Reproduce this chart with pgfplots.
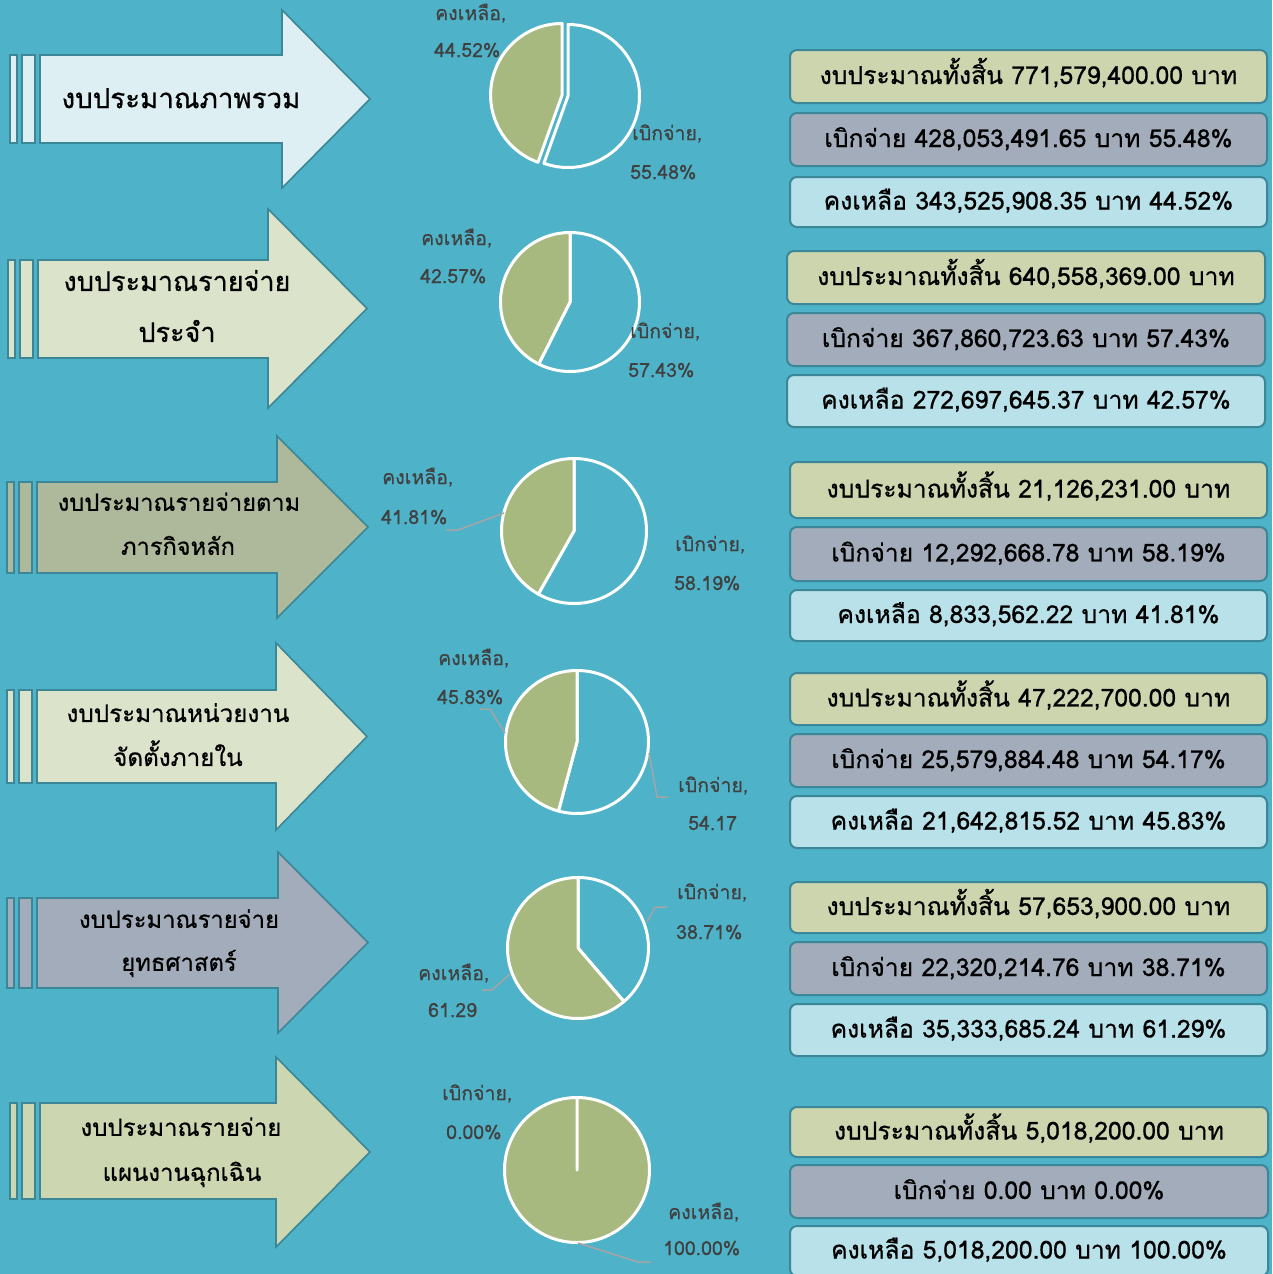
\documentclass[border=0pt]{standalone}
\usepackage{pgfplots}
\pgfplotsset{compat=1.18}
\usepackage{fontspec}
\setmainfont{Loma}[Script=Thai]
\definecolor{bg}{HTML}{4EB2C8}
\definecolor{edge}{HTML}{3B8797}
\definecolor{aA}{HTML}{DDEFF3}
\definecolor{aB}{HTML}{DCE3CB}
\definecolor{aC}{HTML}{AEB89A}
\definecolor{aE}{HTML}{A2ACBA}
\definecolor{aF}{HTML}{CCD6B1}
\definecolor{bxA}{HTML}{CDD5AF}
\definecolor{bxB}{HTML}{A2ACBA}
\definecolor{bxC}{HTML}{B8E1E9}
\definecolor{pgreen}{HTML}{A8B97F}
\definecolor{lab}{HTML}{404040}
\definecolor{lead}{HTML}{A5A5A5}
\newcommand{\boxfont}{\fontsize{24.7}{28}\selectfont\addfontfeatures{FakeBold=0.7}}
\newcommand{\labfont}{\fontsize{19.5}{22}\selectfont\addfontfeatures{FakeBold=0.4}}
% dx top bottom hx htop hbot tip fill
\newcommand{\arrowrow}[8]{%
 \filldraw[fill=#8, draw=edge, line width=1.6pt] (axis cs:{#1+7},#2) rectangle (axis cs:{#1+14},#3);
 \filldraw[fill=#8, draw=edge, line width=1.6pt] (axis cs:{#1+19},#2) rectangle (axis cs:{#1+32},#3);
 \filldraw[fill=#8, draw=edge, line width=1.6pt, line join=miter] (axis cs:{#1+37},#2) -- (axis cs:#4,#2) -- (axis cs:#4,#5) -- (axis cs:#7,{(#5+#6)/2}) -- (axis cs:#4,#6) -- (axis cs:#4,#3) -- (axis cs:{#1+37},#3) -- cycle;
}
% x y size text
\newcommand{\atext}[4]{\node[anchor=base, font={\fontsize{#3}{30}\selectfont\addfontfeatures{FakeBold=0.7}}, inner sep=0] at (axis cs:#1,{#2+0.33*#3}) {#4};}
% x1 y1 x2 y2 fill text
\newcommand{\ibox}[6]{%
 \filldraw[fill=#5, draw=edge, line width=2pt, rounded corners=7pt] (axis cs:#1,#2) rectangle (axis cs:#3,#4);
 \node[anchor=base, font=\boxfont, inner sep=0] at (axis cs:{(#1+#3)/2},{(#2+#4)/2+7.5}) {#6};
}
\newcommand{\lbl}[3]{\node[anchor=base west, text=lab, font=\labfont, inner sep=0] at (axis cs:#1,{#2+7}) {#3};}
% cx cy r pct explode
\newcommand{\pie}[5]{%
 \filldraw[fill=bg, draw=white, line width=3pt, line join=round] (axis cs:#1,#2) -- ++(90:#3pt) arc[start angle=90, end angle={90-3.6*#4}, radius=#3pt] -- cycle;
 \filldraw[fill=pgreen, draw=white, line width=3pt, line join=round, shift={({-90-1.8*#4}:#5pt)}] (axis cs:#1,#2) -- ++({90-3.6*#4}:#3pt) arc[start angle={90-3.6*#4}, end angle=-270, radius=#3pt] -- cycle;
}
\begin{document}
\begin{tikzpicture}
\begin{axis}[x=1pt, y=1pt, xmin=0, xmax=1272, ymin=0, ymax=1274, y dir=reverse, hide axis, clip=true]
\fill[bg] (axis cs:0,0) rectangle (axis cs:1272,1274);
% arrows
\arrowrow{3}{55}{143}{282}{10}{188}{370}{aA}
\arrowrow{1}{260}{358}{268}{209}{408}{367}{aB}
\arrowrow{0}{482}{573}{277}{436}{618}{368}{aC}
\arrowrow{0}{690}{783}{276}{643}{830}{367}{aB}
\arrowrow{0}{898}{988}{278}{852}{1033}{368}{aE}
\arrowrow{3}{1103}{1199}{276}{1057}{1247}{370}{aF}
\atext{181}{99}{27.7}{งบประมาณภาพรวม}
\atext{177}{282}{27}{งบประมาณรายจ่าย}
\atext{177}{333}{27}{ประจำ}
\atext{179}{503}{23.6}{งบประมาณรายจ่ายตาม}
\atext{178}{547}{23.6}{ภารกิจหลัก}
\atext{178}{714}{24.2}{งบประมาณหน่วยงาน}
\atext{178}{758}{24.2}{จัดตั้งภายใน}
\atext{179}{920}{23.8}{งบประมาณรายจ่าย}
\atext{179}{963}{23.8}{ยุทธศาสตร์}
\atext{181}{1128}{23.9}{งบประมาณรายจ่าย}
\atext{182}{1173}{23.9}{แผนงานฉุกเฉิน}
% pies: centre x, centre y, radius, percent spent (เบิกจ่าย), explode
\pie{568}{96}{71.5}{55.48}{6}
\pie{570}{302}{69.5}{57.43}{0}
\pie{574}{531}{72.5}{58.19}{0}
\pie{577}{742}{71.5}{54.17}{0}
\pie{578}{948}{70.5}{38.71}{0}
\pie{577}{1170}{72.5}{0.00}{0}
% leader lines
\draw[lead, line width=1.5pt] (axis cs:446,530) -- (axis cs:458,530) -- (axis cs:504,513);
\draw[lead, line width=1.5pt] (axis cs:480,709) -- (axis cs:490,709) -- (axis cs:505,733);
\draw[lead, line width=1.5pt] (axis cs:649,753) -- (axis cs:657,797) -- (axis cs:668,797);
\draw[lead, line width=1.5pt] (axis cs:647,922) -- (axis cs:655,907) -- (axis cs:667,907);
\draw[lead, line width=1.5pt] (axis cs:482,990) -- (axis cs:492,990) -- (axis cs:510,974);
\draw[lead, line width=1.5pt] (axis cs:578,1243) -- (axis cs:638,1262) -- (axis cs:651,1262);
% pie labels
\lbl{435}{13}{คงเหลือ,}\lbl{434}{50}{44.52\%}
\lbl{632}{133}{เบิกจ่าย,}\lbl{630}{172}{55.48\%}
\lbl{421}{238}{คงเหลือ,}\lbl{420}{276}{42.57\%}
\lbl{630}{331}{เบิกจ่าย,}\lbl{628}{370}{57.43\%}
\lbl{382}{477}{คงเหลือ,}\lbl{381}{517}{41.81\%}
\lbl{675}{544}{เบิกจ่าย,}\lbl{674}{583}{58.19\%}
\lbl{438}{658}{คงเหลือ,}\lbl{437}{697}{45.83\%}
\lbl{678}{785}{เบิกจ่าย,}\lbl{688}{823}{54.17}
\lbl{677}{892}{เบิกจ่าย,}\lbl{676}{932}{38.71\%}
\lbl{418}{973}{คงเหลือ,}\lbl{428}{1010}{61.29}
\lbl{442}{1093}{เบิกจ่าย,}\lbl{446}{1132}{0.00\%}
\lbl{668}{1212}{คงเหลือ,}\lbl{663}{1248}{100.00\%}
% boxes
\ibox{790}{50}{1267}{103}{bxA}{งบประมาณทั้งสิ้น 771,579,400.00 บาท}
\ibox{790}{113}{1267}{166}{bxB}{เบิกจ่าย 428,053,491.65 บาท 55.48\%}
\ibox{790}{177}{1267}{227}{bxC}{คงเหลือ 343,525,908.35 บาท 44.52\%}
\ibox{787}{251}{1265}{304}{bxA}{งบประมาณทั้งสิ้น 640,558,369.00 บาท}
\ibox{787}{313}{1265}{366}{bxB}{เบิกจ่าย 367,860,723.63 บาท 57.43\%}
\ibox{787}{375}{1265}{427}{bxC}{คงเหลือ 272,697,645.37 บาท 42.57\%}
\ibox{790}{462}{1267}{518}{bxA}{งบประมาณทั้งสิ้น 21,126,231.00 บาท}
\ibox{790}{527}{1267}{581}{bxB}{เบิกจ่าย 12,292,668.78 บาท 58.19\%}
\ibox{790}{590}{1267}{641}{bxC}{คงเหลือ 8,833,562.22 บาท 41.81\%}
\ibox{790}{673}{1267}{725}{bxA}{งบประมาณทั้งสิ้น 47,222,700.00 บาท}
\ibox{790}{734}{1267}{787}{bxB}{เบิกจ่าย 25,579,884.48 บาท 54.17\%}
\ibox{790}{796}{1267}{848}{bxC}{คงเหลือ 21,642,815.52 บาท 45.83\%}
\ibox{790}{882}{1267}{933}{bxA}{งบประมาณทั้งสิ้น 57,653,900.00 บาท}
\ibox{790}{942}{1267}{995}{bxB}{เบิกจ่าย 22,320,214.76 บาท 38.71\%}
\ibox{790}{1004}{1267}{1056}{bxC}{คงเหลือ 35,333,685.24 บาท 61.29\%}
\ibox{790}{1107}{1268}{1157}{bxA}{งบประมาณทั้งสิ้น 5,018,200.00 บาท}
\ibox{790}{1165}{1268}{1218}{bxB}{เบิกจ่าย 0.00 บาท 0.00\%}
\ibox{790}{1226}{1268}{1276}{bxC}{คงเหลือ 5,018,200.00 บาท 100.00\%}
\path (rel axis cs:0,0) coordinate (BL) (rel axis cs:1,1) coordinate (TR);
\end{axis}
\pgfresetboundingbox
\path (BL) rectangle (TR);
\end{tikzpicture}
\end{document}
